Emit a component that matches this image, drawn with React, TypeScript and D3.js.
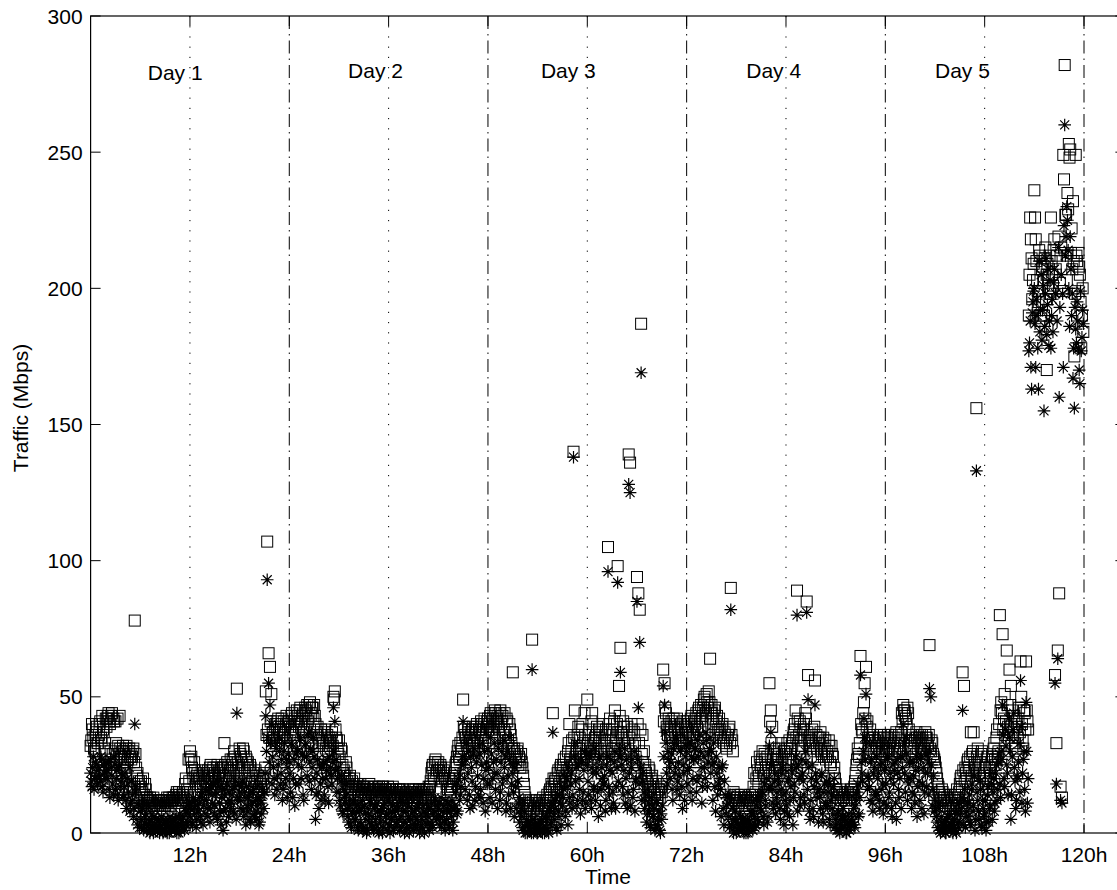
import React from "react";
import * as d3 from "d3";

// samples: 6 per hour (every 10 min) in each array, hour-by-hour rows.
// "A" arrays sit on the 10-minute marks, "B" arrays 5 minutes later.
const PER_HOUR = 6;

// peak-like series (squares)
const squareValues: number[] = [
  32, 40, 35, 30, 37, 33,
  36, 41, 34, 38, 31, 42,
  42, 44, 40, 43, 29, 41,
  41, 29, 32, 43, 28, 30,
  30, 28, 32, 27, 31, 29,
  28, 31, 78, 24, 22, 19,
  17, 15, 20, 14, 16, 13,
  12, 13, 11, 12, 10, 11,
  11, 10, 12, 11, 9, 12,
  10, 12, 11, 13, 10, 12,
  12, 11, 14, 12, 15, 13,
  13, 15, 14, 20, 16, 27,
  30, 28, 22, 26, 19, 21,
  18, 21, 17, 20, 22, 19,
  19, 23, 21, 25, 20, 24,
  22, 18, 25, 21, 23, 20,
  24, 33, 21, 26, 19, 23,
  22, 27, 30, 19, 53, 24,
  31, 28, 25, 30, 22, 27,
  26, 20, 24, 18, 22, 19,
  17, 21, 15, 19, 16, 20,
  22, 52, 107, 66, 61, 51,
  37, 34, 40, 36, 42, 38,
  39, 35, 41, 37, 43, 40,
  41, 38, 44, 36, 42, 40,
  43, 39, 46, 41, 37, 44,
  45, 47, 42, 48, 44, 46,
  47, 40, 37, 35, 33, 38,
  36, 32, 38, 34, 30, 35,
  33, 37, 50, 52, 35, 31,
  34, 24, 30, 22, 20, 26,
  19, 17, 21, 16, 18, 20,
  16, 18, 15, 17, 14, 16,
  17, 15, 16, 14, 18, 15,
  15, 17, 14, 16, 15, 17,
  16, 14, 17, 15, 16, 14,
  14, 16, 15, 17, 13, 15,
  15, 13, 16, 14, 15, 13,
  14, 15, 13, 16, 14, 15,
  13, 15, 14, 13, 16, 14,
  15, 14, 16, 13, 15, 17,
  17, 22, 25, 20, 27, 23,
  26, 21, 24, 19, 23, 20,
  18, 16, 20, 15, 17, 19,
  22, 26, 30, 28, 33, 31,
  49, 38, 35, 32, 37, 34,
  36, 39, 33, 37, 40, 35,
  38, 41, 36, 40, 34, 39,
  42, 39, 44, 37, 41, 45,
  40, 43, 38, 45, 41, 36,
  44, 35, 41, 31, 38, 33,
  59, 31, 28, 30, 25, 27,
  29, 24, 18, 13, 11, 10,
  9, 12, 71, 8, 11, 7,
  8, 11, 6, 10, 13, 9,
  10, 14, 12, 16, 18, 44,
  17, 20, 15, 23, 19, 25,
  22, 27, 19, 24, 30, 40,
  26, 34, 140, 45, 29, 36,
  31, 27, 38, 33, 44, 29,
  49, 36, 30, 41, 34, 28,
  33, 39, 27, 35, 30, 37,
  29, 36, 32, 105, 40, 34,
  38, 31, 45, 35, 98, 54,
  68, 36, 41, 33, 29, 39,
  139, 136, 40, 32, 37, 28,
  94, 88, 82, 187, 36, 30,
  25, 20, 18, 23, 16, 21,
  17, 14, 19, 13, 16, 15,
  15, 60, 55, 44, 38, 42,
  36, 41, 33, 39, 35, 42,
  38, 34, 40, 36, 32, 39,
  41, 37, 35, 42, 39, 36,
  40, 44, 38, 46, 42, 39,
  46, 50, 44, 48, 52, 64,
  47, 42, 45, 39, 43, 37,
  38, 35, 40, 33, 36, 31,
  36, 39, 90, 34, 15, 13,
  12, 14, 11, 13, 10, 12,
  11, 13, 12, 10, 14, 12,
  13, 22, 15, 26, 18, 28,
  24, 30, 21, 27, 19, 25,
  55, 45, 39, 29, 24, 27,
  26, 31, 23, 28, 21, 30,
  29, 33, 25, 31, 27, 35,
  38, 45, 89, 32, 41, 34,
  36, 40, 44, 85, 58, 33,
  34, 38, 30, 56, 36, 28,
  33, 37, 29, 35, 31, 27,
  30, 34, 26, 32, 28, 24,
  18, 15, 13, 16, 12, 14,
  13, 15, 12, 14, 13, 16,
  16, 14, 19, 25, 31, 28,
  65, 38, 44, 55, 61, 41,
  34, 38, 31, 36, 29, 33,
  32, 35, 29, 33, 30, 36,
  33, 30, 36, 31, 34, 29,
  35, 31, 37, 33, 30, 34,
  44, 47, 45, 42, 46, 38,
  34, 31, 36, 33, 29, 35,
  33, 36, 30, 34, 31, 37,
  35, 32, 69, 30, 33, 28,
  26, 22, 18, 15, 13, 16,
  12, 14, 10, 13, 11, 9,
  11, 9, 13, 10, 16, 12,
  18, 21, 59, 54, 24, 20,
  27, 23, 37, 29, 37, 25,
  156, 31, 22, 26, 30, 20,
  24, 19, 28, 16, 22, 26,
  28, 33, 25, 38, 30, 80,
  48, 73, 42, 36, 67, 39,
  60, 54, 45, 38, 33, 41,
  35, 46, 63, 40, 31, 44,
  63, 41, 190, 226, 211, 203,
  236, 218, 203, 195, 212, 190,
  208, 190, 215, 170, 200, 212,
  226, 205, 214, 58, 33, 67,
  88, 17, 13, 249, 282, 227,
  235, 253, 251, 222, 232, 175,
  249, 210, 213, 205, 178, 200,
];

const squareValuesB: number[] = [
  34, 38, 31, 36, 39, 33,
  40, 35, 43, 37, 33, 39,
  43, 41, 30, 44, 42, 31,
  33, 42, 29, 31, 27, 32,
  29, 31, 26, 30, 28, 27,
  30, 26, 29, 21, 18, 16,
  19, 16, 14, 18, 13, 12,
  11, 12, 10, 13, 11, 10,
  12, 11, 10, 12, 11, 10,
  11, 13, 10, 12, 11, 13,
  13, 12, 15, 11, 14, 12,
  14, 12, 18, 15, 13, 19,
  27, 24, 20, 23, 18, 22,
  20, 17, 23, 18, 21, 16,
  22, 20, 24, 19, 23, 21,
  19, 24, 20, 22, 18, 24,
  21, 25, 20, 24, 22, 27,
  25, 21, 28, 23, 26, 20,
  29, 26, 31, 24, 28, 25,
  23, 25, 19, 21, 17, 23,
  19, 16, 20, 18, 21, 17,
  24, 36, 38, 35, 41, 34,
  35, 39, 33, 41, 37, 35,
  42, 38, 36, 40, 34, 41,
  39, 43, 37, 41, 38, 45,
  41, 45, 40, 43, 38, 46,
  44, 41, 47, 43, 46, 42,
  43, 36, 39, 32, 36, 34,
  33, 37, 31, 36, 32, 34,
  35, 32, 49, 38, 34, 29,
  28, 31, 25, 23, 21, 24,
  18, 20, 17, 19, 16, 17,
  17, 15, 16, 18, 15, 17,
  16, 14, 17, 15, 16, 14,
  16, 15, 17, 14, 16, 15,
  15, 17, 14, 16, 15, 17,
  15, 14, 16, 15, 14, 16,
  14, 16, 15, 13, 16, 14,
  15, 13, 14, 15, 13, 16,
  14, 16, 13, 15, 14, 15,
  16, 15, 14, 16, 14, 16,
  19, 24, 21, 26, 22, 25,
  23, 25, 20, 22, 21, 24,
  17, 19, 16, 18, 20, 21,
  25, 28, 32, 27, 30, 35,
  39, 36, 33, 38, 35, 37,
  38, 34, 36, 39, 33, 38,
  37, 40, 35, 42, 38, 41,
  40, 43, 38, 42, 39, 44,
  42, 39, 44, 40, 43, 38,
  37, 42, 34, 40, 36, 31,
  30, 29, 26, 31, 28, 24,
  26, 21, 15, 12, 10, 11,
  10, 8, 11, 9, 12, 8,
  9, 12, 7, 11, 10, 12,
  12, 11, 15, 13, 17, 20,
  19, 16, 22, 18, 24, 21,
  25, 21, 28, 23, 33, 27,
  30, 25, 35, 28, 32, 39,
  35, 30, 40, 28, 36, 32,
  33, 38, 31, 44, 30, 35,
  36, 31, 38, 29, 34, 40,
  33, 38, 30, 36, 42, 31,
  36, 41, 33, 40, 37, 43,
  37, 34, 39, 31, 36, 33,
  35, 30, 38, 27, 33, 25,
  40, 33, 38, 29, 26, 23,
  22, 19, 24, 17, 20, 18,
  15, 18, 14, 16, 13, 17,
  18, 41, 46, 39, 36, 40,
  39, 35, 42, 37, 40, 34,
  36, 40, 33, 41, 37, 35,
  38, 40, 36, 43, 37, 41,
  42, 39, 45, 41, 47, 43,
  49, 45, 51, 46, 48, 44,
  44, 40, 46, 41, 38, 42,
  36, 39, 34, 37, 32, 35,
  38, 33, 36, 30, 14, 12,
  13, 11, 12, 14, 11, 13,
  12, 10, 13, 11, 12, 14,
  17, 14, 20, 23, 21, 25,
  27, 22, 29, 24, 28, 22,
  41, 33, 27, 31, 25, 29,
  28, 24, 33, 26, 30, 25,
  31, 27, 34, 29, 32, 37,
  40, 35, 42, 36, 39, 31,
  38, 34, 42, 37, 35, 31,
  36, 32, 39, 33, 31, 35,
  35, 30, 33, 28, 34, 29,
  28, 32, 25, 29, 22, 20,
  16, 13, 15, 12, 14, 13,
  14, 12, 15, 13, 14, 15,
  15, 17, 22, 27, 29, 33,
  40, 37, 48, 42, 39, 35,
  36, 32, 35, 30, 34, 31,
  34, 31, 36, 30, 33, 35,
  31, 35, 30, 33, 36, 32,
  33, 36, 30, 35, 32, 37,
  41, 45, 43, 40, 44, 36,
  32, 35, 30, 34, 37, 31,
  35, 32, 36, 30, 33, 35,
  33, 36, 31, 34, 29, 27,
  24, 20, 17, 14, 12, 15,
  13, 11, 12, 10, 14, 11,
  12, 10, 14, 11, 13, 15,
  20, 17, 23, 19, 22, 26,
  24, 28, 21, 30, 26, 23,
  28, 24, 21, 29, 25, 22,
  21, 27, 18, 24, 20, 28,
  31, 27, 35, 29, 40, 45,
  44, 38, 51, 41, 47, 35,
  47, 40, 36, 43, 31, 39,
  42, 37, 50, 34, 45, 38,
  45, 38, 205, 218, 196, 209,
  226, 210, 199, 214, 188, 207,
  203, 211, 196, 209, 205, 198,
  210, 201, 218, 207, 212, 219,
  202, 215, 199, 240, 227, 212,
  229, 248, 213, 207, 210, 198,
  212, 203, 208, 195, 190, 184,
];

// average-like series (stars)
const starValues: number[] = [
  22, 17, 28, 20, 25, 18,
  24, 19, 27, 15, 22, 26,
  20, 26, 13, 24, 18, 28,
  16, 23, 12, 25, 19, 21,
  14, 22, 9, 18, 24, 11,
  12, 6, 40, 17, 3, 10,
  8, 2, 11, 4, 7, 1,
  3, 0, 5, 2, 6, 1,
  2, 4, 0, 3, 1, 5,
  1, 3, 5, 0, 4, 2,
  4, 1, 6, 2, 0, 5,
  3, 6, 1, 8, 4, 10,
  6, 11, 3, 9, 12, 5,
  8, 13, 4, 15, 10, 7,
  12, 6, 16, 9, 14, 18,
  10, 15, 5, 17, 8, 13,
  1, 14, 9, 18, 6, 12,
  11, 16, 7, 19, 44, 13,
  15, 9, 19, 6, 13, 17,
  8, 14, 4, 11, 16, 6,
  5, 10, 3, 12, 7, 14,
  15, 43, 93, 55, 47, 40,
  28, 20, 33, 16, 25, 30,
  22, 12, 30, 18, 27, 24,
  26, 15, 32, 20, 10, 29,
  30, 18, 35, 24, 14, 28,
  33, 21, 37, 26, 16, 30,
  28, 5, 22, 15, 25, 12,
  20, 26, 12, 23, 17, 28,
  24, 18, 46, 41, 27, 20,
  15, 10, 21, 7, 13, 18,
  9, 4, 12, 2, 7, 11,
  5, 10, 1, 8, 3, 12,
  2, 7, 0, 9, 4, 11,
  6, 1, 10, 3, 8, 0,
  4, 9, 2, 11, 6, 1,
  7, 0, 5, 10, 2, 8,
  3, 9, 1, 6, 11, 4,
  8, 2, 10, 0, 5, 7,
  1, 6, 9, 3, 11, 2,
  5, 10, 0, 7, 3, 9,
  4, 11, 2, 8, 12, 6,
  9, 3, 13, 6, 10, 1,
  5, 11, 2, 8, 12, 4,
  10, 18, 8, 22, 14, 25,
  41, 20, 27, 12, 30, 9,
  24, 10, 31, 17, 28, 14,
  29, 13, 33, 20, 8, 26,
  31, 18, 35, 11, 26, 22,
  27, 9, 33, 15, 30, 20,
  24, 8, 30, 14, 35, 18,
  22, 6, 17, 26, 11, 4,
  9, 2, 12, 0, 5, 3,
  1, 4, 60, 0, 3, 2,
  0, 3, 1, 5, 2, 0,
  2, 6, 0, 9, 4, 37,
  5, 12, 1, 8, 14, 3,
  10, 16, 6, 20, 3, 13,
  18, 9, 138, 33, 24, 12,
  20, 7, 26, 15, 30, 11,
  25, 14, 29, 9, 22, 17,
  12, 24, 6, 28, 16, 20,
  18, 8, 25, 96, 14, 27,
  22, 11, 30, 17, 92, 28,
  59, 25, 14, 31, 20, 9,
  128, 125, 24, 13, 30, 19,
  85, 46, 70, 169, 22, 15,
  12, 4, 16, 8, 2, 10,
  6, 1, 11, 3, 8, 0,
  5, 54, 47, 33, 18, 27,
  20, 29, 12, 33, 24, 16,
  26, 14, 31, 9, 22, 28,
  30, 18, 24, 33, 12, 27,
  27, 15, 34, 21, 30, 11,
  33, 24, 37, 17, 29, 35,
  30, 12, 26, 8, 22, 18,
  20, 6, 25, 3, 14, 10,
  11, 2, 82, 5, 0, 8,
  0, 3, 1, 6, 2, 4,
  2, 0, 5, 1, 3, 7,
  1, 6, 3, 10, 4, 12,
  8, 15, 3, 12, 20, 6,
  32, 37, 16, 9, 22, 13,
  11, 18, 5, 22, 14, 8,
  15, 7, 20, 12, 24, 3,
  18, 28, 80, 25, 10, 21,
  22, 14, 30, 81, 49, 8,
  12, 25, 6, 47, 19, 15,
  16, 9, 22, 4, 18, 11,
  10, 18, 3, 14, 7, 20,
  5, 1, 8, 0, 3, 6,
  2, 6, 0, 4, 1, 3,
  4, 9, 2, 12, 18, 7,
  58, 22, 30, 35, 51, 16,
  20, 12, 27, 8, 24, 15,
  14, 22, 9, 26, 18, 11,
  24, 10, 28, 15, 20, 6,
  18, 26, 5, 22, 13, 28,
  28, 40, 22, 35, 12, 18,
  20, 9, 26, 14, 23, 6,
  24, 12, 28, 18, 7, 22,
  17, 26, 53, 50, 10, 21,
  12, 6, 2, 9, 0, 4,
  1, 4, 0, 6, 2, 3,
  3, 0, 5, 1, 7, 2,
  4, 9, 45, 12, 2, 8,
  6, 14, 3, 18, 10, 1,
  133, 12, 5, 16, 2, 9,
  7, 1, 14, 4, 10, 18,
  15, 8, 22, 12, 26, 18,
  30, 47, 20, 38, 25, 14,
  35, 5, 28, 44, 19, 12,
  20, 33, 56, 11, 27, 16,
  48, 11, 177, 188, 163, 195,
  200, 171, 190, 163, 184, 205,
  192, 155, 198, 183, 207, 188,
  178, 196, 202, 55, 18, 64,
  160, 12, 11, 171, 260, 219,
  225, 200, 219, 190, 167, 156,
  185, 195, 178, 165, 177, 192,
];

const starValuesB: number[] = [
  19, 24, 16, 26, 21, 23,
  21, 28, 17, 25, 20, 23,
  23, 16, 27, 21, 14, 25,
  20, 14, 24, 17, 22, 13,
  17, 12, 20, 15, 8, 19,
  14, 9, 15, 5, 11, 2,
  5, 9, 1, 6, 3, 10,
  4, 1, 7, 0, 3, 5,
  1, 5, 2, 6, 0, 3,
  4, 0, 2, 6, 1, 5,
  2, 5, 0, 3, 7, 1,
  5, 2, 9, 3, 7, 11,
  9, 4, 13, 7, 2, 10,
  11, 6, 14, 3, 12, 16,
  9, 15, 4, 17, 11, 7,
  14, 6, 19, 11, 3, 16,
  8, 16, 4, 11, 15, 9,
  14, 8, 17, 5, 12, 18,
  12, 17, 8, 15, 3, 10,
  13, 5, 10, 15, 7, 12,
  8, 13, 4, 11, 16, 9,
  22, 30, 35, 26, 33, 18,
  24, 14, 31, 21, 35, 18,
  27, 16, 33, 20, 13, 29,
  22, 33, 13, 27, 18, 31,
  25, 34, 20, 29, 12, 32,
  28, 36, 19, 31, 24, 35,
  20, 14, 27, 9, 18, 24,
  25, 14, 20, 27, 11, 22,
  21, 26, 30, 23, 15, 24,
  12, 19, 8, 16, 11, 14,
  6, 10, 3, 8, 12, 5,
  8, 2, 11, 4, 9, 1,
  10, 5, 1, 7, 12, 3,
  2, 9, 5, 11, 1, 6,
  8, 0, 10, 4, 7, 12,
  3, 11, 8, 1, 6, 4,
  10, 5, 12, 2, 8, 0,
  4, 11, 6, 2, 9, 3,
  8, 3, 5, 10, 0, 7,
  2, 8, 4, 11, 6, 1,
  9, 3, 7, 13, 5, 10,
  11, 6, 2, 8, 4, 12,
  8, 3, 10, 6, 1, 9,
  15, 7, 20, 12, 17, 28,
  25, 16, 33, 22, 14, 28,
  19, 29, 12, 26, 21, 32,
  16, 25, 11, 30, 23, 18,
  24, 13, 29, 20, 33, 16,
  22, 31, 12, 26, 18, 34,
  28, 11, 21, 27, 9, 25,
  15, 24, 9, 19, 13, 7,
  6, 1, 8, 3, 0, 4,
  2, 0, 5, 1, 4, 0,
  3, 1, 4, 0, 2, 6,
  5, 1, 8, 3, 11, 7,
  9, 2, 14, 6, 11, 17,
  13, 21, 8, 17, 24, 11,
  22, 14, 28, 19, 10, 25,
  16, 27, 12, 23, 9, 29,
  19, 28, 12, 24, 16, 31,
  22, 15, 27, 10, 24, 18,
  21, 12, 28, 17, 23, 9,
  15, 26, 9, 24, 19, 31,
  28, 17, 23, 11, 27, 15,
  22, 10, 27, 16, 8, 20,
  27, 18, 24, 12, 19, 9,
  14, 7, 11, 3, 13, 6,
  9, 3, 12, 5, 1, 7,
  10, 28, 37, 22, 30, 24,
  26, 16, 31, 22, 35, 19,
  21, 30, 17, 25, 12, 32,
  23, 33, 15, 28, 20, 31,
  31, 19, 28, 36, 24, 17,
  28, 20, 34, 26, 31, 22,
  25, 33, 17, 28, 14, 24,
  16, 24, 9, 19, 7, 13,
  6, 14, 3, 9, 2, 5,
  4, 1, 7, 2, 5, 0,
  5, 2, 0, 4, 8, 3,
  7, 2, 12, 5, 14, 9,
  14, 6, 18, 10, 4, 16,
  17, 25, 11, 19, 7, 15,
  20, 9, 16, 24, 3, 12,
  10, 19, 6, 17, 22, 13,
  15, 24, 8, 20, 13, 27,
  19, 11, 26, 16, 24, 5,
  20, 9, 17, 22, 13, 4,
  13, 21, 7, 15, 10, 19,
  15, 5, 12, 9, 17, 2,
  3, 7, 1, 5, 2, 9,
  5, 0, 3, 7, 2, 5,
  7, 3, 10, 15, 6, 13,
  26, 19, 42, 27, 33, 21,
  17, 26, 11, 22, 14, 28,
  20, 12, 25, 16, 7, 23,
  18, 27, 13, 22, 9, 25,
  23, 11, 27, 16, 20, 9,
  24, 33, 15, 29, 20, 26,
  26, 15, 21, 11, 28, 17,
  19, 27, 9, 24, 15, 29,
  22, 14, 30, 25, 16, 8,
  9, 4, 11, 1, 6, 2,
  3, 0, 5, 2, 7, 1,
  5, 2, 8, 0, 4, 11,
  7, 13, 3, 16, 6, 11,
  11, 4, 16, 8, 21, 5,
  15, 8, 19, 3, 12, 6,
  12, 4, 17, 9, 22, 5,
  20, 11, 25, 16, 29, 13,
  27, 36, 17, 32, 22, 42,
  30, 14, 38, 24, 9, 21,
  26, 15, 39, 22, 30, 8,
  30, 20, 180, 171, 191, 199,
  187, 196, 178, 210, 192, 181,
  201, 186, 211, 194, 179, 203,
  190, 184, 207, 198, 188, 215,
  193, 205, 198, 223, 212, 230,
  214, 186, 207, 198, 178, 193,
  180, 188, 170, 199, 182, 187,
];

const xTickHours = [12, 24, 36, 48, 60, 72, 84, 96, 108, 120];
const xTickLabels = ["12h", "24h", "36h", "48h", "60h", "72h", "84h", "96h", "108h", "120h"];
const yTicks = [0, 50, 100, 150, 200, 250, 300];
const noonLines = [12, 36, 60, 84, 108];
const midnightLines = [24, 48, 72, 96, 120];
const dayLabels = ["Day 1", "Day 2", "Day 3", "Day 4", "Day 5"];
const dayLabelHours = [6.9, 31.1, 54.4, 79.2, 102.0];

const W = 1117;
const H = 890;
const FONT = "'Liberation Sans', Arial, Helvetica, sans-serif";

export default function App() {
  const x = d3.scaleLinear().domain([0, 125]).range([90.6, 1125.4]);
  const y = d3.scaleLinear().domain([0, 300]).range([833, 16]);
  const left = x.range()[0];
  const right = x.range()[1];
  const top = y(300);
  const bottom = y(0);
  const tA = (i: number) => i / PER_HOUR;
  const tB = (i: number) => i / PER_HOUR + 0.5 / PER_HOUR;
  const starPath = "M-6.3,0H6.3M0,-6.3V6.3M-4.5,-4.5L4.5,4.5M-4.5,4.5L4.5,-4.5";

  const squares = [
    ...squareValues.map((v, i) => ({ t: tA(i), v })),
    ...squareValuesB.map((v, i) => ({ t: tB(i), v })),
  ];
  const stars = [
    ...starValues.map((v, i) => ({ t: tA(i), v })),
    ...starValuesB.map((v, i) => ({ t: tB(i), v })),
  ];

  return (
    <div style={{ position: "absolute", left: 0, top: 0 }}>
      <svg width={W} height={H} style={{ display: "block", background: "#fff" }} fontFamily={FONT}>
        <rect x={0} y={0} width={W} height={H} fill="#fff" />
        {noonLines.map((h) => (
          <line key={"n" + h} x1={x(h)} x2={x(h)} y1={top} y2={bottom} stroke="#000" strokeWidth={1} strokeDasharray="1.2,9" />
        ))}
        {midnightLines.map((h) => (
          <line key={"m" + h} x1={x(h)} x2={x(h)} y1={top} y2={bottom} stroke="#000" strokeWidth={1} strokeDasharray="13,5,1.5,5" />
        ))}
        <g fill="none" stroke="#000">
          {squares.map((d, i) => (
            <rect key={"s" + i} x={x(d.t) - 5.5} y={y(d.v) - 5.5} width={11} height={11} strokeWidth={1} />
          ))}
          {stars.map((d, i) => (
            <path key={"a" + i} d={starPath} transform={`translate(${x(d.t)},${y(d.v)})`} strokeWidth={1.2} />
          ))}
        </g>
        <rect x={left} y={top} width={right - left} height={bottom - top} fill="none" stroke="#000" strokeWidth={1.2} />
        {yTicks.map((v) => (
          <g key={"y" + v}>
            <line x1={left} x2={left + 10} y1={y(v)} y2={y(v)} stroke="#000" />
            <line x1={right - 10} x2={right} y1={y(v)} y2={y(v)} stroke="#000" />
            <text x={left - 8} y={y(v)} dy="0.36em" textAnchor="end" fontSize={21}>{v}</text>
          </g>
        ))}
        {xTickHours.map((h, i) => (
          <g key={"x" + h}>
            <line x1={x(h)} x2={x(h)} y1={bottom} y2={bottom - 10} stroke="#000" />
            <line x1={x(h)} x2={x(h)} y1={top} y2={top + 10} stroke="#000" />
            <text x={x(h)} y={bottom + 29} textAnchor="middle" fontSize={21}>{xTickLabels[i]}</text>
          </g>
        ))}
        {dayLabels.map((d, i) => (
          <text key={d} x={x(dayLabelHours[i])} y={i === 0 ? 80 : 78} fontSize={21}>{d}</text>
        ))}
        <text x={(left + right) / 2} y={884} textAnchor="middle" fontSize={21}>Time</text>
        <text transform={`translate(28,408) rotate(-90)`} textAnchor="middle" fontSize={21}>Traffic (Mbps)</text>
      </svg>
    </div>
  );
}
